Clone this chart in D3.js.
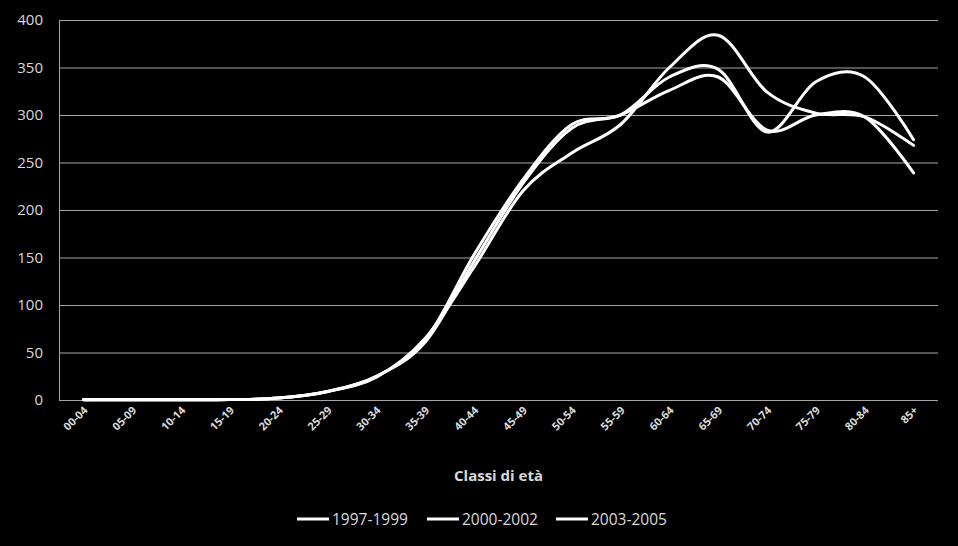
<!DOCTYPE html>
<html>
<head>
<meta charset="utf-8">
<script src="https://cdn.jsdelivr.net/npm/d3@7"></script>
<style>
  html, body { margin: 0; padding: 0; background: #000; }
  svg { display: block; }
</style>
</head>
<body>
<div id="chart"></div>
<script>
// Age classes (x axis)
const categories = ['00-04', '05-09', '10-14', '15-19', '20-24', '25-29', '30-34', '35-39', '40-44',
    '45-49', '50-54', '55-59', '60-64', '65-69', '70-74', '75-79', '80-84', '85+'];
// Series values
const series1997 = [0.3, 0.2, 0.3, 0.5, 2, 9, 25, 61, 146, 228, 286, 300, 326, 340, 284, 300, 298, 239];
const series2000 = [0.3, 0.2, 0.3, 0.5, 2, 9, 25, 63, 153, 232, 290, 300, 340, 348, 282, 335, 340, 274];
const series2003 = [0.3, 0.2, 0.3, 0.5, 2, 9, 24, 65, 140, 220, 260, 290, 350, 384, 324, 302, 298, 268];
const seriesNames = ['1997-1999', '2000-2002', '2003-2005'];
const yTicks = [0, 50, 100, 150, 200, 250, 300, 350, 400];

const W = 958, H = 546;
const plot = { left: 59, right: 938, top: 20, bottom: 400 };

function draw() {
    const svg = d3.select('#chart').append('svg')
        .attr('width', W)
        .attr('height', H)
        .style('background', '#000');

    const x = d3.scaleBand()
        .domain(categories)
        .range([plot.left, plot.right]);

    const y = d3.scaleLinear()
        .domain([0, 400])
        .range([plot.bottom, plot.top]);

    // Gridlines
    svg.append('g')
        .selectAll('line')
        .data(yTicks)
        .join('line')
        .attr('x1', plot.left)
        .attr('x2', plot.right)
        .attr('y1', d => y(d) + 0.5)
        .attr('y2', d => y(d) + 0.5)
        .attr('stroke', '#a6a6a6')
        .attr('stroke-width', 1);

    // Left axis line
    svg.append('line')
        .attr('x1', plot.left + 0.5).attr('x2', plot.left + 0.5)
        .attr('y1', plot.top).attr('y2', plot.bottom)
        .attr('stroke', '#a6a6a6');

    // Y tick labels
    svg.append('g')
        .selectAll('text')
        .data(yTicks)
        .join('text')
        .attr('x', 43)
        .attr('y', d => y(d) + 5)
        .attr('text-anchor', 'end')
        .style('font-family', 'Open Sans, sans-serif')
        .style('font-size', '15px')
        .style('fill', '#d9d9d9')
        .text(d => d);

    // X tick labels, rotated -45
    svg.append('g')
        .selectAll('text')
        .data(categories)
        .join('text')
        .attr('transform', d => `translate(${x(d) + x.bandwidth() / 2 + 5},411) rotate(-45)`)
        .attr('text-anchor', 'end')
        .style('font-family', 'Open Sans, sans-serif')
        .style('font-size', '11px')
        .style('font-weight', 'bold')
        .style('fill', '#d9d9d9')
        .text(d => d);

    // Axis title
    svg.append('text')
        .attr('x', (plot.left + plot.right) / 2)
        .attr('y', 481)
        .attr('text-anchor', 'middle')
        .style('font-family', 'Open Sans, sans-serif')
        .style('font-size', '15px')
        .style('font-weight', 'bold')
        .style('fill', '#d9d9d9')
        .text('Classi di età');

    // Lines
    const line = d3.line()
        .x((d, i) => x(categories[i]) + x.bandwidth() / 2)
        .y(d => y(d))
        .curve(d3.curveCardinal.tension(0));

    [series1997, series2000, series2003].forEach(s => {
        svg.append('path')
            .datum(s)
            .attr('d', line)
            .attr('fill', 'none')
            .attr('stroke', '#fff')
            .attr('stroke-width', 3)
            .attr('stroke-linecap', 'round');
    });

    // Legend
    const legendX = [297, 427, 556];
    const lg = svg.append('g');
    seriesNames.forEach((name, i) => {
        lg.append('line')
            .attr('x1', legendX[i]).attr('x2', legendX[i] + 32)
            .attr('y1', 519).attr('y2', 519)
            .attr('stroke', '#fff')
            .attr('stroke-width', 3);
        lg.append('text')
            .attr('x', legendX[i] + 35)
            .attr('y', 525)
            .style('font-family', 'Open Sans, sans-serif')
            .style('font-size', '15.5px')
            .style('fill', '#d9d9d9')
            .text(name);
    });
}

document.addEventListener('DOMContentLoaded', draw);
</script>
</body>
</html>
